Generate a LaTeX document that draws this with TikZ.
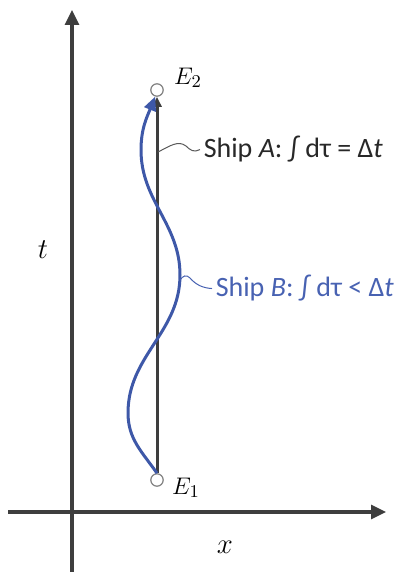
\documentclass[tikz,border=0pt]{standalone}
\usepackage{fontspec}
\usetikzlibrary{arrows.meta,positioning}
\newfontfamily\shipfont{Carlito}
\definecolor{axisgray}{RGB}{62,62,62}
\definecolor{textgray}{RGB}{40,40,40}
\definecolor{shipblue}{RGB}{62,88,168}
\definecolor{labelblue}{RGB}{72,98,178}
\tikzset{every picture/.style={line width=0.75pt}}

\begin{document}
\begin{tikzpicture}[x=0.5pt,y=0.5pt,
    axis/.style={axisgray, line width=1.6pt, -{Triangle[length=7.5pt,width=7pt]}},
    event/.style={circle, draw=gray, line width=0.6pt, fill=white, minimum size=6.2pt, inner sep=0pt},
    tilde/.style={gray!70!black, line width=0.5pt},
    shiplabel/.style={anchor=base west, inner sep=0pt, font=\shipfont\fontsize{14}{16}\selectfont}]
    \useasboundingbox (0,0) rectangle (397,572);

    % Achsen
    \coordinate (tbot) at (72,0);
    \coordinate (ttop) at (72,562);
    \coordinate (xleft) at (8,60);
    \coordinate (xright) at (386,60);
    \draw[axis] (tbot) -- (ttop);
    \draw[axis] (xleft) -- (xright);
    \node (tlab) at (43,322) {\fontsize{14}{16}\selectfont$t$};
    \node (xlab) at (225,25) {\fontsize{14}{16}\selectfont$x$};

    % Ereignisse
    \node[event] (E1) at (157,92) {};
    \node[event] (E2) at (157,482) {};
    \node (E1lab) at (186,84) {\fontsize{12.5}{14}\selectfont$E_1$};
    \node (E2lab) at (188,494) {\fontsize{12.5}{14}\selectfont$E_2$};

    % Weltlinie A (gerade)
    \draw[axisgray, line width=1.5pt, -{Triangle[length=5pt,width=4.5pt]}] (E1) -- (E2);

    % Weltlinie B (gewellt)
    \draw[shipblue, line width=1.5pt, -{Triangle[length=7pt,width=6pt]}]
        (E1.north) to[out=125,in=-90] (128,159) to[out=90,in=-90] (180,297)
        to[out=90,in=-90] (141,422) to[out=90,in=-112] (E2.-105);

    % Beschriftungen
    \node[shiplabel, textgray] (shipA) at (203,414) {Ship \textit{A}: ∫ dτ = Δ\textit{t}};
    \node[shiplabel, labelblue] (shipB) at (215,275) {Ship \textit{B}: ∫ dτ < Δ\textit{t}};

    \coordinate (tA) at (158,420);
    \coordinate (tB) at (180,292);
    \draw[tilde] (tA) .. controls (170,426) and (178,432) .. (186,426)
        .. controls (190,422) and (194,419) .. ([xshift=-1.5pt]shipA.west);
    \draw[tilde, labelblue] (tB) .. controls (183,296) and (186,298) .. (190,294)
        .. controls (196,287) and (203,284) .. ([xshift=-1.5pt]shipB.west);
\end{tikzpicture}
\end{document}
